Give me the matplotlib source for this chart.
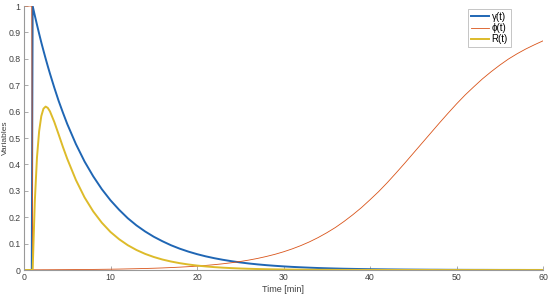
import numpy as np
import matplotlib
matplotlib.use('Agg')
import matplotlib.pyplot as plt
from matplotlib.ticker import FormatStrFormatter

plt.rcParams['font.family'] = ['Liberation Sans', 'DejaVu Sans']

# time grid [min]
t = [0, 0.9, 1.0, 1.25, 1.5, 1.75, 2, 2.25, 2.5, 2.75, 3, 3.5, 4, 4.5, 5,
     6, 7, 8, 9, 10, 11, 12, 13, 14, 15, 16, 17, 18, 19, 20,
     21, 22, 23, 24, 25, 26, 27, 28, 29, 30, 31, 32, 33, 34, 35,
     36, 37, 38, 39, 40, 41, 42, 43, 44, 45, 46, 47, 48, 49, 50,
     51, 52, 53, 54, 55, 56, 57, 58, 59, 60]

# gamma(t)
gamma = [0, 0, 1.0, 0.964, 0.929, 0.895, 0.862, 0.831, 0.801, 0.772, 0.744, 0.691, 0.641, 0.596, 0.553,
         0.477, 0.411, 0.355, 0.306, 0.264, 0.228, 0.196, 0.169, 0.146, 0.126, 0.109, 0.0937, 0.0808, 0.0697, 0.0601,
         0.0518, 0.0447, 0.0386, 0.0333, 0.0287, 0.0247, 0.0213, 0.0184, 0.0159, 0.0137, 0.0118, 0.0102, 0.0088, 0.0075, 0.0065,
         0.0056, 0.0048, 0.0042, 0.0036, 0.0031, 0.0027, 0.0023, 0.0020, 0.0017, 0.0015, 0.0013, 0.0011, 0.0010, 0.0008, 0.0007,
         0.0006, 0.0005, 0.0005, 0.0004, 0.0003, 0.0003, 0.0003, 0.0002, 0.0002, 0.0002]

# phi(t)
phi = [1, 1, 0.0007, 0.0008, 0.0008, 0.0008, 0.0008, 0.0009, 0.0009, 0.0009, 0.0010, 0.0011, 0.0012, 0.0013, 0.0014,
       0.0016, 0.0019, 0.0022, 0.0026, 0.0030, 0.0035, 0.0042, 0.0049, 0.0057, 0.0067, 0.0078, 0.0092, 0.0108, 0.0126, 0.0147,
       0.0173, 0.0202, 0.0236, 0.0276, 0.0322, 0.0376, 0.0438, 0.0511, 0.0593, 0.0689, 0.0799, 0.0924, 0.1066, 0.1228, 0.141,
       0.161, 0.184, 0.209, 0.236, 0.266, 0.297, 0.331, 0.367, 0.404, 0.442, 0.480, 0.518, 0.556, 0.593, 0.629,
       0.663, 0.694, 0.724, 0.751, 0.776, 0.799, 0.819, 0.837, 0.853, 0.868]

# R(t)
R = [0, 0, 0, 0.260, 0.426, 0.526, 0.583, 0.611, 0.619, 0.614, 0.601, 0.561, 0.514, 0.466, 0.421,
     0.341, 0.275, 0.222, 0.179, 0.144, 0.1165, 0.0939, 0.0758, 0.0611, 0.0493, 0.0397, 0.0321, 0.0259, 0.0209, 0.0168,
     0.0136, 0.0109, 0.0088, 0.0071, 0.0057, 0.0046, 0.0037, 0.0030, 0.0024, 0.0020, 0.0016, 0.0013, 0.0010, 0.0008, 0.0007,
     0.0005, 0.0004, 0.0004, 0.0003, 0.0002, 0.0002, 0.0001, 0.0001, 0.0001, 0.0001, 0.0001, 0.0001, 0, 0, 0,
     0, 0, 0, 0, 0, 0, 0, 0, 0, 0]

fig = plt.figure(figsize=(5.5, 2.96), dpi=100)
ax = fig.add_axes([24 / 550, 26 / 296, 519 / 550, 264 / 296])

ax.plot(t, gamma, color='#1f66b4', lw=1.4, label='γ(t)')
ax.plot(t, phi, color='#D95319', lw=0.6, label='ϕ(t)')
ax.plot(t, R, color='#DDBB2A', lw=1.4, label='R(t)')

ax.set_xlim(0, 60)
ax.set_ylim(0, 1)
ax.set_xticks(np.arange(0, 61, 10))
ax.set_yticks(np.arange(0, 1.01, 0.1))
ax.yaxis.set_major_formatter(FormatStrFormatter('%g'))
ax.tick_params(direction='in', length=3, width=0.5, colors='#888888',
               labelcolor='#404040', labelsize=6.3, pad=2.5)

for s in ['top', 'right']:
    ax.spines[s].set_visible(False)
for s in ['left', 'bottom']:
    ax.spines[s].set_color('#999999')
    ax.spines[s].set_linewidth(0.8)

ax.set_xlabel('Time [min]', fontsize=6.5, color='#404040', labelpad=2)
ax.set_ylabel('Variables', fontsize=6, color='#404040')
ax.yaxis.set_label_coords(-0.028, 0.5)

leg = ax.legend(loc='upper right', bbox_to_anchor=(0.938, 0.99), fontsize=7,
                frameon=True, fancybox=False, handlelength=1.8,
                labelspacing=0.15, borderpad=0.3, handletextpad=0.3,
                borderaxespad=0)
leg.get_frame().set_edgecolor('#aaaaaa')
leg.get_frame().set_linewidth(0.6)

fig.savefig('out.png', dpi=100)
